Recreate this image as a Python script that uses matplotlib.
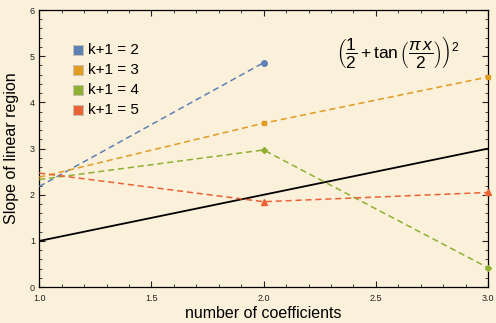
import numpy as np
import matplotlib
matplotlib.use("Agg")
import matplotlib.pyplot as plt
from matplotlib.ticker import MultipleLocator, FormatStrFormatter

plt.rcParams["font.family"] = ["Liberation Sans", "DejaVu Sans"]
plt.rcParams["mathtext.fontset"] = "custom"
plt.rcParams["mathtext.rm"] = "Liberation Sans"
plt.rcParams["mathtext.it"] = "Liberation Sans:italic"

# data
x3 = [1.0, 2.0, 3.0]
k2_x = [1.0, 2.0]
k2_y = [2.18, 4.86]
k3_y = [2.38, 3.55, 4.55]
k4_y = [2.33, 2.97, 0.42]
k5_y = [2.47, 1.85, 2.05]
ref_x = [1.0, 3.0]
ref_y = [1.0, 3.0]

labels = ["k+1 = 2", "k+1 = 3", "k+1 = 4", "k+1 = 5"]
colors = ["#5E81B5", "#E19C24", "#8FB032", "#EB6235"]

bg = "#FBF0DA"
fig = plt.figure(figsize=(4.96, 3.23), dpi=100, facecolor=bg)
ax = fig.add_axes([0.079, 0.111, 0.905, 0.858])
ax.set_facecolor(bg)

dash = (4, 2.5)
ax.plot(ref_x, ref_y, color="black", lw=1.3, zorder=3)
ax.plot(k2_x, k2_y, "--o", color=colors[0], lw=1.1, ms=4, dashes=dash, markevery=[1], clip_on=False, zorder=4)
ax.plot(x3, k3_y, "--s", color=colors[1], lw=1.1, ms=3.5, dashes=dash, markevery=[1, 2], clip_on=False, zorder=4)
ax.plot(x3, k4_y, "--D", color=colors[2], lw=1.1, ms=3.0, dashes=dash, markevery=[1, 2], clip_on=False, zorder=4)
ax.plot(x3, k5_y, "--^", color=colors[3], lw=1.1, ms=3.8, dashes=dash, markevery=[1, 2], clip_on=False, zorder=4)

ax.set_xlim(1.0, 3.0)
ax.set_ylim(0, 6)
ax.xaxis.set_major_locator(MultipleLocator(0.5))
ax.xaxis.set_minor_locator(MultipleLocator(0.1))
ax.yaxis.set_major_locator(MultipleLocator(1))
ax.yaxis.set_minor_locator(MultipleLocator(0.2))
ax.tick_params(which="both", direction="in", top=True, right=True, labelsize=6.5, colors="#222222")
ax.tick_params(axis="x", pad=5)
ax.tick_params(axis="y", pad=3)
ax.tick_params(which="major", length=4, width=0.8)
ax.tick_params(which="minor", length=2, width=0.6)
ax.xaxis.set_major_formatter(FormatStrFormatter("%.1f"))
for s in ax.spines.values():
    s.set_linewidth(0.9)

ax.set_xlabel("number of coefficients", fontsize=11.5, labelpad=2)
ax.set_ylabel("Slope of linear region", fontsize=11.5, labelpad=8)

# legend swatches
for i, (lab, c) in enumerate(zip(labels, colors)):
    yy = 0.856 - i * 0.072
    ax.scatter([0.087], [yy], s=45, marker="s", color=c, edgecolors="#c8c0b0",
               linewidths=0.7, transform=ax.transAxes, clip_on=False, zorder=5)
    ax.text(0.108, yy, lab, transform=ax.transAxes, fontsize=11, va="center", ha="left")

ax.text(0.80, 0.85, r"$\left(\dfrac{1}{2}+\tan\left(\dfrac{\pi\,x}{2}\right)\right)^2$",
        transform=ax.transAxes, fontsize=12.5, ha="center", va="center")

fig.savefig("out.png", dpi=100, facecolor=bg)
